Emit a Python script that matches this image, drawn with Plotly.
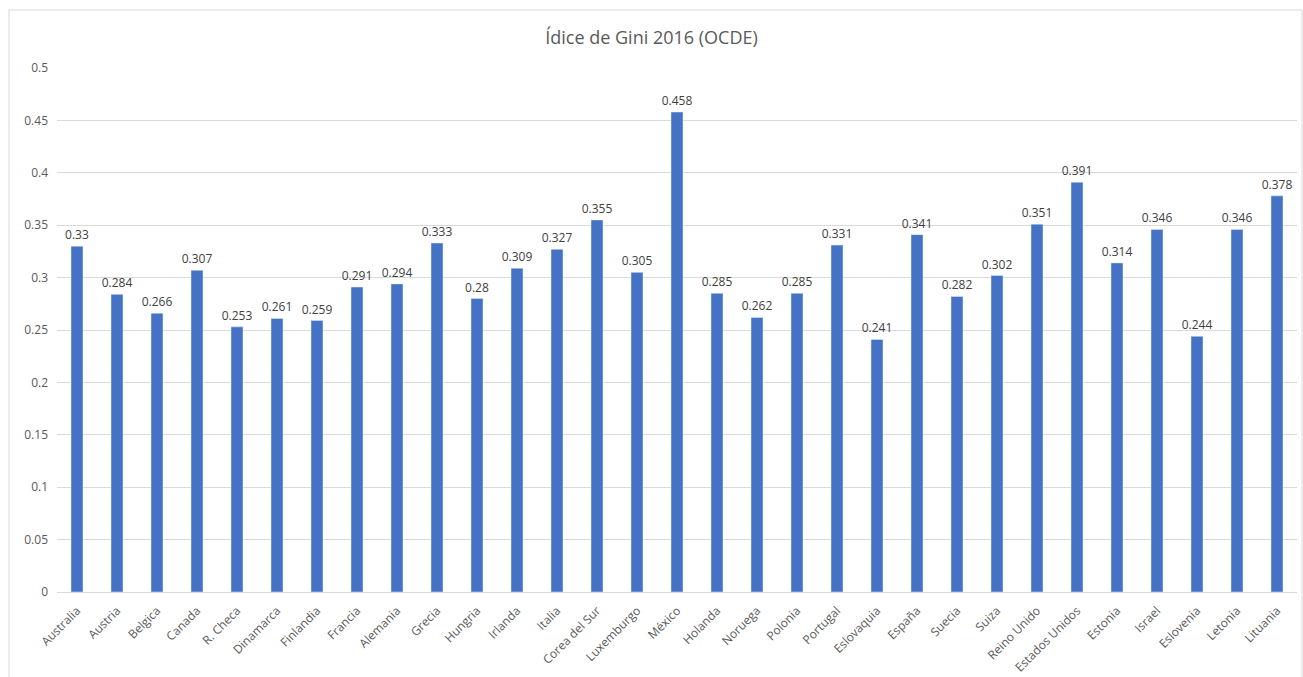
import plotly.graph_objects as go

paises = ["Australia", "Austria", "Belgica", "Canada", "R. Checa", "Dinamarca", "Finlandia",
          "Francia", "Alemania", "Grecia", "Hungria", "Irlanda", "Italia", "Corea del Sur",
          "Luxemburgo", "México", "Holanda", "Noruega", "Polonia", "Portugal", "Eslovaquia",
          "España", "Suecia", "Suiza", "Reino Unido", "Estados Unidos", "Estonia", "Israel",
          "Eslovenia", "Letonia", "Lituania"]
gini = [0.33, 0.284, 0.266, 0.307, 0.253, 0.261, 0.259, 0.291, 0.294, 0.333, 0.28, 0.309,
        0.327, 0.355, 0.305, 0.458, 0.285, 0.262, 0.285, 0.331, 0.241, 0.341, 0.282, 0.302,
        0.351, 0.391, 0.314, 0.346, 0.244, 0.346, 0.378]
y_ticks = [0, 0.05, 0.1, 0.15, 0.2, 0.25, 0.3, 0.35, 0.4, 0.45, 0.5]

fig = go.Figure()
fig.add_trace(go.Bar(
    x=paises, y=gini,
    marker_color="#4472C4",
    text=[str(v) for v in gini],
    textposition="outside",
    constraintext="none",
    textfont=dict(size=12, color="#404040"),
    cliponaxis=False,
))

font = "Open Sans, Liberation Sans, sans-serif"
fig.update_layout(
    width=1303, height=677,
    margin=dict(l=57, r=6, t=68, b=85, autoexpand=False),
    paper_bgcolor="white", plot_bgcolor="white",
    font=dict(family=font, color="#595959", size=12),
    title=dict(text="Ídice de Gini 2016 (OCDE)", x=0.5, xanchor="center",
               y=0.945, yanchor="middle", font=dict(size=18, color="#595959")),
    bargap=0.7,
    showlegend=False,
)
fig.update_yaxes(range=[0, 0.5], tickvals=y_ticks, ticktext=[f"{v:g}" for v in y_ticks],
                 showgrid=True, gridcolor="#D9D9D9", gridwidth=1, zeroline=False,
                 ticks="", automargin=False, ticklabelstandoff=8,
                 tickfont=dict(size=12, color="#595959"))
fig.update_xaxes(tickangle=-45, showline=True, linecolor="#D9D9D9", linewidth=1,
                 automargin=False, ticklabelstandoff=6,
                 tickfont=dict(size=12, color="#595959"))

# chart border like Excel
fig.add_shape(type="rect", xref="paper", yref="paper",
              x0=(9 - 57) / 1240, x1=(1302 - 57) / 1240,
              y0=-0.3, y1=(592 - 10) / 524,
              line=dict(color="#D9D9D9", width=1), layer="below")

# drop the default page margin so the figure sits at the window corner
fig.write_html("out.html", config={"displayModeBar": False},
               post_script="document.body.style.margin='0';")
